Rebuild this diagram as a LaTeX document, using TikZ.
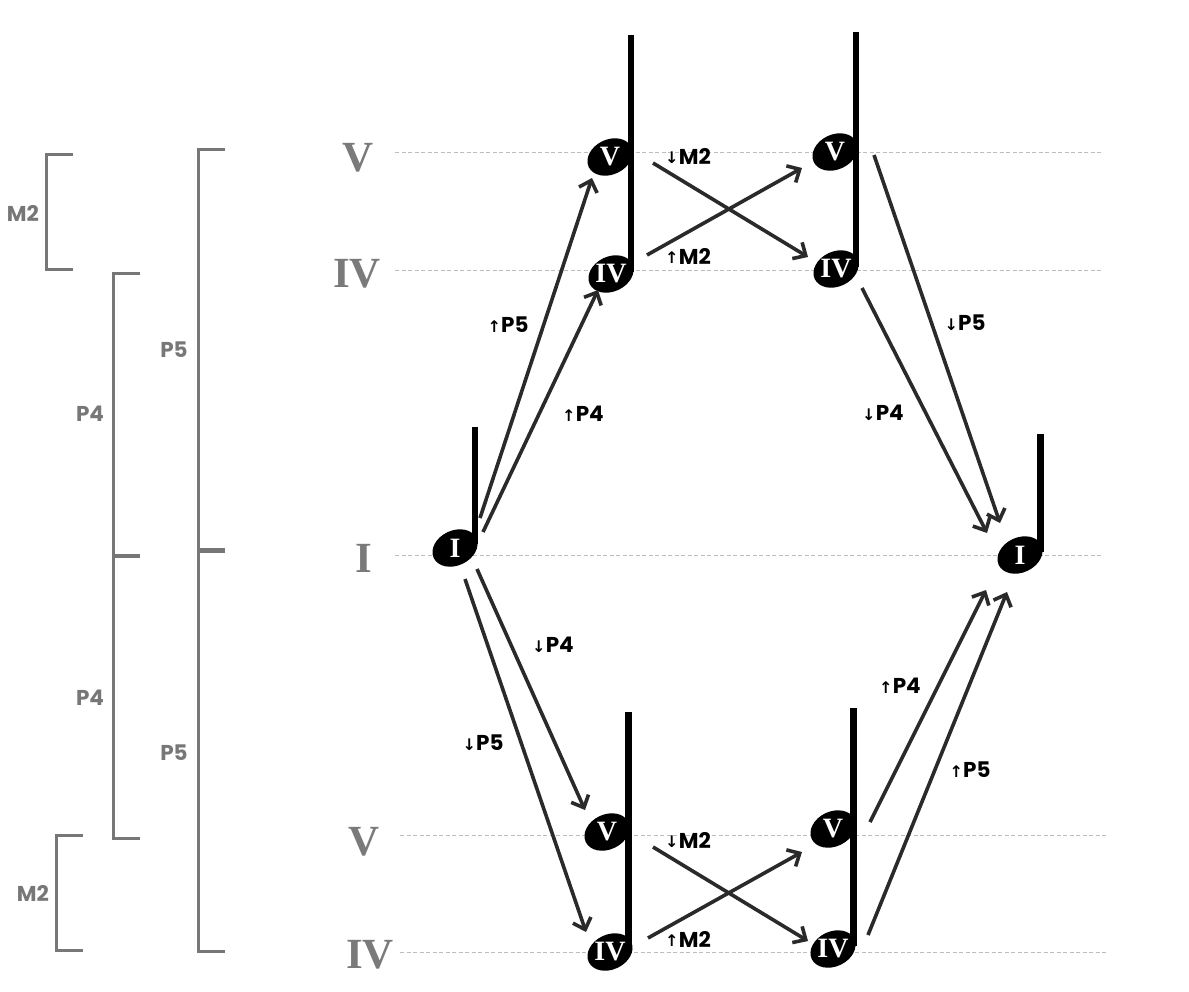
\documentclass[tikz,border=0pt]{standalone}
\usepackage{fontspec}
\setmainfont{Liberation Serif}
\newfontfamily\labfont{Poppins}
\newfontfamily\arrfont{DejaVu Sans}
\usetikzlibrary{arrows.meta,shapes.geometric}
\definecolor{brgray}{HTML}{777777}
\definecolor{numgray}{HTML}{7A7A7A}
\definecolor{arrgray}{HTML}{2A2A2A}
\definecolor{gridgray}{HTML}{BDBDBD}
\newcommand{\up}{\raisebox{0.5pt}{\arrfont\bfseries\fontsize{16}{16}\selectfont ↑}\kern0.2pt}
\newcommand{\dn}{\raisebox{0.5pt}{\arrfont\bfseries\fontsize{16}{16}\selectfont ↓}\kern0.2pt}
\begin{document}
\begin{tikzpicture}[x=1pt,y=-1pt,
  grid/.style={draw=gridgray, line width=1pt, dash pattern=on 4pt off 2.5pt},
  bracket/.style={draw=brgray, line width=3pt},
  brlbl/.style={text=brgray, inner sep=0pt, font=\labfont\bfseries\fontsize{21.5}{21.5}\selectfont},
  numeral/.style={text=numgray, inner sep=0pt, font=\bfseries\fontsize{43}{43}\selectfont},
  head/.style={ellipse, fill=black, minimum width=47pt, minimum height=35pt, inner sep=0pt, rotate=25},
  headtxt/.style={text=white, inner sep=0pt, font=\bfseries\fontsize{28}{28}\selectfont},
  stem/.style={draw=black, line width=6.5pt},
  move/.style={draw=arrgray, line width=3.6pt, -{Straight Barb[length=10pt,width=19pt]}},
  mv/.style={inner sep=0pt, font=\labfont\bfseries\fontsize{21.5}{21.5}\selectfont}]
\useasboundingbox (0,0) rectangle (1189,991);
\fill[white] (0,0) rectangle (1189,991);

% guide lines
\draw[grid] (395,152) -- (1102,152);
\draw[grid] (395,270) -- (1102,270);
\draw[grid] (395,555) -- (1102,555);
\draw[grid] (400,835) -- (1108,835);
\draw[grid] (400,952) -- (1108,952);

% brackets
\draw[bracket] (73,154) -- (46,154) -- (46,269) -- (73,269);
\draw[bracket] (140,273) -- (113,273) -- (113,555) -- (140,555);
\draw[bracket] (225,149) -- (198,149) -- (198,549) -- (225,549);
\draw[bracket] (140,556) -- (113,556) -- (113,838) -- (140,838);
\draw[bracket] (225,551) -- (198,551) -- (198,951) -- (225,951);
\draw[bracket] (83,835) -- (56,835) -- (56,950) -- (83,950);
\node[brlbl] (bM2a) at (23,213) {M2};
\node[brlbl] (bP4a) at (90,414) {P4};
\node[brlbl] (bP5a) at (174,350) {P5};
\node[brlbl] (bP4b) at (90,698) {P4};
\node[brlbl] (bP5b) at (174,753) {P5};
\node[brlbl] (bM2b) at (33,893) {M2};

% numerals
\node[numeral] (nV1) at (358,158) {V};
\node[numeral] (nIV1) at (357,274) {IV};
\node[numeral] (nI) at (364,558) {I};
\node[numeral] (nV2) at (364,842) {V};
\node[numeral] (nIV2) at (370,955) {IV};

% stems
\draw[stem] (475,427) -- (475,544);
\draw[stem] (631,35) -- (631,272);
\draw[stem] (856,32) -- (856,267);
\draw[stem] (1040.5,434) -- (1040.5,552);
\draw[stem] (628.5,712) -- (628.5,950);
\draw[stem] (853.5,708) -- (853.5,946);

% note heads
\node[head] (hL) at (455,548) {};
\node[head] (hTV1) at (610,157) {};
\node[head] (hTIV1) at (611,274) {};
\node[head] (hTV2) at (835,152) {};
\node[head] (hTIV2) at (836,269) {};
\node[head] (hR) at (1020,555) {};
\node[head] (hBV1) at (607,832) {};
\node[head] (hBIV1) at (610,952) {};
\node[head] (hBV2) at (833,829) {};
\node[head] (hBIV2) at (833,949) {};
\node[headtxt] (tL) at (hL) {I};
\node[headtxt] (tTV1) at (hTV1) {V};
\node[headtxt] (tTIV1) at (hTIV1) {IV};
\node[headtxt] (tTV2) at (hTV2) {V};
\node[headtxt] (tTIV2) at (hTIV2) {IV};
\node[headtxt] (tR) at (hR) {I};
\node[headtxt] (tBV1) at (hBV1) {V};
\node[headtxt] (tBIV1) at (hBIV1) {IV};
\node[headtxt] (tBV2) at (hBV2) {V};
\node[headtxt] (tBIV2) at (hBIV2) {IV};

% moves
\draw[move] ([shift={(25,-30)}]hL.center) -- ([shift={(-18,21)}]hTV1.center);
\draw[move] ([shift={(28,-16)}]hL.center) -- ([shift={(-13,16)}]hTIV1.center);
\draw[move] ([shift={(43,6)}]hTV1.center) -- ([shift={(-28,-12)}]hTIV2.center);
\draw[move] ([shift={(36,-19)}]hTIV1.center) -- ([shift={(-33,16)}]hTV2.center);
\draw[move] ([shift={(39,3)}]hTV2.center) -- ([shift={(-20,-32)}]hR.center);
\draw[move] ([shift={(26,19)}]hTIV2.center) -- ([shift={(-33,-22)}]hR.center);
\draw[move] ([shift={(22,21)}]hL.center) -- ([shift={(-22,-22)}]hBV1.center);
\draw[move] ([shift={(10,31)}]hL.center) -- ([shift={(-24,-20)}]hBIV1.center);
\draw[move] ([shift={(46,15)}]hBV1.center) -- ([shift={(-25,-8)}]hBIV2.center);
\draw[move] ([shift={(38,-14)}]hBIV1.center) -- ([shift={(-31,23)}]hBV2.center);
\draw[move] ([shift={(37,-7)}]hBV2.center) -- ([shift={(-34,35)}]hR.center);
\draw[move] ([shift={(35,-14)}]hBIV2.center) -- ([shift={(-13,37)}]hR.center);

% move labels
\node[mv] (m1) at (508,325) {\up P5};
\node[mv] (m2) at (583,414) {\up P4};
\node[mv] (m3) at (688,156) {\dn M2};
\node[mv] (m4) at (688,256) {\up M2};
\node[mv] (m5) at (965,323) {\dn P5};
\node[mv] (m6) at (883,413) {\dn P4};
\node[mv] (m7) at (553,645) {\dn P4};
\node[mv] (m8) at (483,743) {\dn P5};
\node[mv] (m9) at (688,840) {\dn M2};
\node[mv] (m10) at (688,939) {\up M2};
\node[mv] (m11) at (900,686) {\up P4};
\node[mv] (m12) at (970,770) {\up P5};
\end{tikzpicture}
\end{document}
